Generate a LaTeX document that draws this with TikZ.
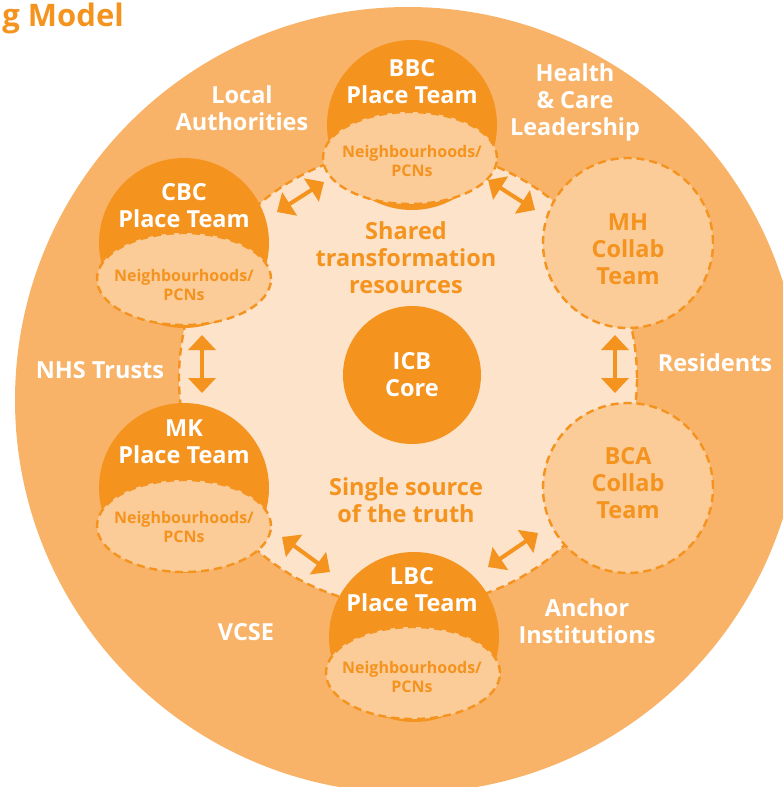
\documentclass[tikz,border=0pt]{standalone}
\usepackage{fontspec}
\setsansfont{Open Sans}
\usetikzlibrary{shapes.geometric,arrows.meta}
\definecolor{outerOrange}{HTML}{F8B368}
\definecolor{hubPeach}{HTML}{FDE3C9}
\definecolor{teamOrange}{HTML}{F5931F}
\definecolor{palePeach}{HTML}{FBCB98}
\begin{document}
\begin{tikzpicture}[
  x=1pt, y=-1pt,
  font=\sffamily\bfseries,
  every node/.style={align=center, inner sep=0pt},
  dashline/.style={draw=teamOrange, dash pattern=on 8pt off 5pt, line width=2.4pt},
  outerring/.style={circle, fill=outerOrange, minimum size=786pt},
  hub/.style={circle, fill=hubPeach, dashline, minimum size=458pt},
  placeteam/.style={circle, fill=teamOrange, minimum size=170pt},
  collab/.style={circle, fill=palePeach, dashline, minimum size=170pt},
  nbhood/.style={ellipse, fill=palePeach, dashline, minimum width=174pt, minimum height=92pt},
  nbtext/.style={text=teamOrange, font=\sffamily\bfseries\fontsize{16}{18.5}\selectfont},
  teamtext/.style={text=white, font=\sffamily\bfseries\fontsize{23.5}{27}\selectfont},
  collabtext/.style={text=teamOrange, font=\sffamily\bfseries\fontsize{23.5}{27}\selectfont},
  partner/.style={text=white, font=\sffamily\bfseries\fontsize{23.5}{27}\selectfont},
  theme/.style={text=teamOrange, font=\sffamily\bfseries\fontsize{23.5}{27}\selectfont},
  link/.style={{Triangle[width=27pt,length=15pt]}-{Triangle[width=27pt,length=15pt]},
    line width=4pt, draw=teamOrange}]

\useasboundingbox (0,0) rectangle (782,787);

% Outer ring and shared inner region
\node[outerring] (outer) at (408,400) {};
\node[hub] (hub) at (408,378) {};

% Collaboration teams
\node[collab] (mh) at (628,243) {};
\node[collab] (bca) at (628,488) {};
\node[collabtext] (mhT) at (628,249) {MH\\Collab\\Team};
\node[collabtext] (bcaT) at (628,483) {BCA\\Collab\\Team};

% Place teams with their neighbourhoods
\node[placeteam] (bbc) at (412,125) {};
\node[placeteam] (cbc) at (184,243) {};
\node[placeteam] (mk) at (184,488) {};
\node[placeteam] (lbc) at (414,637) {};
\node[nbhood] (bbcN) at (410,158) {};
\node[nbhood] (cbcN) at (184,279) {};
\node[nbhood] (mkN) at (184,526) {};
\node[nbhood] (lbcN) at (413,673) {};
\node[nbtext] (bbcNT) at (412,161) {Neighbourhoods/\\PCNs};
\node[nbtext] (cbcNT) at (184,285) {Neighbourhoods/\\PCNs};
\node[nbtext] (mkNT) at (184,527) {Neighbourhoods/\\PCNs};
\node[nbtext] (lbcNT) at (412,677) {Neighbourhoods/\\PCNs};
\node[teamtext] (bbcT) at (412,82) {BBC\\Place Team};
\node[teamtext] (cbcT) at (184,206) {CBC\\Place Team};
\node[teamtext] (mkT) at (184,442) {MK\\Place Team};
\node[teamtext] (lbcT) at (412,590) {LBC\\Place Team};

% Core
\node[placeteam, minimum size=138pt, teamtext] (icb) at (412,375) {ICB\\Core};
\node[theme] (shared) at (406,258) {Shared\\transformation\\resources};
\node[theme] (truth) at (406,500) {Single source\\of the truth};

% Partners round the ring
\node[partner] (la) at (242,108) {Local\\Authorities};
\node[partner] (hcl) at (575,102) {Health\\\& Care\\Leadership};
\node[partner] (nhs) at (100,370) {NHS Trusts};
\node[partner] (res) at (715,363) {Residents};
\node[partner] (vcse) at (246,632) {VCSE};
\node[partner] (anchor) at (587,621) {Anchor\\Institutions};

% Title (cut at the page edge)
\node[theme, anchor=base east, font=\sffamily\bfseries\fontsize{31}{34}\selectfont] (title) at (124,26) {g Model};

% Arrow ends
\coordinate (cbcBbcA) at (277,212);
\coordinate (cbcBbcB) at (324,182);
\coordinate (bbcMhA) at (488,180);
\coordinate (bbcMhB) at (535,210);
\coordinate (cbcMkA) at (202,335);
\coordinate (cbcMkB) at (202,393);
\coordinate (mhBcaA) at (615,335);
\coordinate (mhBcaB) at (615,393);
\coordinate (mkLbcA) at (282,537);
\coordinate (mkLbcB) at (330,572);
\coordinate (lbcBcaA) at (488,567);
\coordinate (lbcBcaB) at (538,533);

% Links between neighbouring teams
\draw[link] (cbcBbcA) -- (cbcBbcB);
\draw[link] (bbcMhA) -- (bbcMhB);
\draw[link] (cbcMkA) -- (cbcMkB);
\draw[link] (mhBcaA) -- (mhBcaB);
\draw[link] (mkLbcA) -- (mkLbcB);
\draw[link] (lbcBcaA) -- (lbcBcaB);
\end{tikzpicture}
\end{document}
